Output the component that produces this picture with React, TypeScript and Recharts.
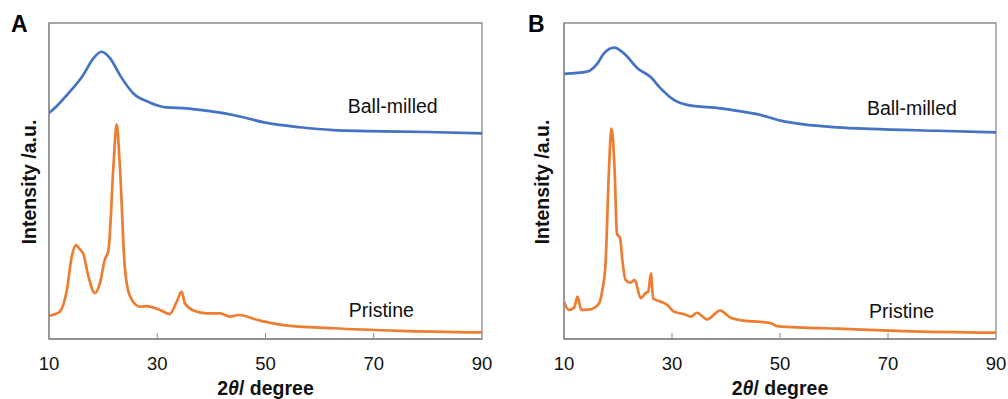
import React from 'react';
import { LineChart, Line, XAxis, YAxis, ReferenceArea, ReferenceDot, Label } from 'recharts';

const FONT = '"Liberation Sans", Arial, sans-serif';
const BLUE = '#4472C4';
const ORANGE = '#ED7D31';
const FRAME = '#8a8a8a';

const xTicks = [10, 30, 50, 70, 90];
const panelLetters = ['A', 'B'];
const seriesNames = ['Ball-milled', 'Pristine'];

// Panel A
const aBallMilledX = [10, 11.5, 13.3, 16.3, 18.2, 19.7, 21.3, 23.1, 25.6, 28.7, 31.7, 35.4, 37.9, 44, 50.2, 56.4, 62.5, 68.7, 80, 90];
const aBallMilledY = [71.5, 73.8, 77.2, 83.5, 88.8, 90.9, 88.8, 83.5, 77.7, 74.8, 73.3, 73.0, 72.5, 70.9, 68.4, 67.0, 66.1, 65.8, 65.5, 65.1];
const aPristineX = [10, 11, 12, 13.3, 14.2, 15, 15.6, 16.3, 17.3, 18.5, 19.4, 20.3, 21, 21.9, 22.5, 23.1, 24, 25, 26.8, 28, 30.5, 32.3, 33.6, 34.5, 35.1, 36.7, 39.1, 41.6, 43.4, 45, 49, 53.3, 62.5, 74.8, 90];
const aPristineY = [7.3, 7.8, 8.6, 15.5, 26, 29.7, 28.6, 27.1, 19.7, 14.5, 17.6, 25, 28.2, 54.5, 67.9, 54.5, 22.9, 13.4, 10.2, 10.4, 9.2, 7.9, 11.8, 15, 11.3, 9.0, 8.1, 8.1, 7.1, 7.6, 5.8, 4.4, 3.4, 2.6, 2.1];

// Panel B
const bBallMilledX = [10, 14.3, 16.2, 17.4, 19.3, 21.1, 23.6, 26.1, 27.9, 30.4, 32.8, 39, 42.1, 46.4, 50.1, 54.4, 60.6, 66.8, 79.1, 90];
const bBallMilledY = [83.9, 84.6, 87.2, 90.4, 92.2, 90.4, 85.7, 82.8, 79.3, 75.6, 74.1, 73.0, 72.2, 70.9, 69.1, 67.9, 67.0, 66.5, 65.9, 65.4];
const bPristineX = [10, 10.9, 11.9, 12.5, 13.2, 14.9, 16.5, 17.1, 17.7, 18.3, 18.8, 19.4, 19.8, 20.4, 20.8, 21.4, 22.3, 23.1, 24.2, 25.1, 25.6, 26.1, 26.5, 27.9, 29.1, 30.4, 32.2, 33.5, 34.6, 36.5, 38.9, 40.9, 43.3, 46.4, 48.3, 49.5, 54.4, 60.6, 72.9, 90];
const bPristineY = [11.8, 9.2, 10, 13.4, 9.2, 9.4, 11.3, 15.5, 24, 52.4, 66.7, 52.4, 33.4, 31.9, 25, 18.7, 17.8, 18.7, 12.9, 14.5, 15, 20.8, 12.9, 11.8, 10.8, 8.6, 7.9, 7.1, 8.3, 6.2, 9.0, 6.7, 5.8, 5.4, 5.0, 4.1, 3.6, 3.3, 2.5, 2.0];

const toRows = (xs: number[], ys: number[]) => xs.map((x, i) => ({ x, y: ys[i] }));

const XTick = (props: any) => {
  const { x, y, payload } = props;
  const axisY = y - 18;
  const edge = payload.value === 10 || payload.value === 90;
  return (
    <g>
      {!edge && <line x1={x} x2={x} y1={axisY} y2={axisY - 6} stroke={FRAME} strokeWidth={1} />}
      <text x={x} y={y} dy="0.71em" textAnchor="middle" fontFamily={FONT} fontSize={18.5} fill="#111">
        {payload.value}
      </text>
    </g>
  );
};

type PanelProps = {
  blue: { x: number; y: number }[];
  orange: { x: number; y: number }[];
  marginLeft: number;
  marginRight: number;
  yAxisWidth: number;
  ballLabel: [number, number];
  pristineLabel: [number, number];
};

const Panel = ({ blue, orange, marginLeft, marginRight, yAxisWidth, ballLabel, pristineLabel }: PanelProps) => (
  <LineChart width={504} height={399} margin={{ top: 23, right: marginRight, left: marginLeft, bottom: 0 }}>
    <XAxis
      type="number"
      dataKey="x"
      domain={[10, 90]}
      ticks={xTicks}
      allowDataOverflow
      height={60}
      tickSize={0}
      tickMargin={18}
      tick={<XTick />}
      axisLine={{ stroke: FRAME, strokeWidth: 1.3 }}
    >
      <Label
        content={(p: any) => {
          const vb = p.viewBox;
          return (
            <text x={vb.x + vb.width / 2} y={vb.y + 56} textAnchor="middle" fontFamily={FONT} fontSize={19.5} fontWeight="bold" fill="#111">
              2<tspan fontStyle="italic">θ</tspan>/ degree
            </text>
          );
        }}
      />
    </XAxis>
    <YAxis
      type="number"
      domain={[0, 100]}
      allowDataOverflow
      width={yAxisWidth}
      tick={false}
      tickLine={false}
      axisLine={{ stroke: FRAME, strokeWidth: 1.3 }}
    >
      <Label
        content={(p: any) => {
          const vb = p.viewBox;
          const cx = vb.x + vb.width / 2;
          const cy = vb.y + vb.height / 2 + 1;
          return (
            <text
              x={cx}
              y={cy}
              transform={`rotate(-90, ${cx}, ${cy})`}
              textAnchor="middle"
              dominantBaseline="central"
              fontFamily={FONT}
              fontSize={19.5}
              fontWeight="bold"
              fill="#111"
            >
              Intensity /a.u.
            </text>
          );
        }}
      />
    </YAxis>
    <ReferenceArea x1={10} x2={90} y1={0} y2={100} fill="none" stroke={FRAME} strokeWidth={1.3} />
    <Line data={blue} dataKey="y" type="monotone" stroke={BLUE} strokeWidth={2.7} dot={false} isAnimationActive={false} />
    <Line data={orange} dataKey="y" type="monotone" stroke={ORANGE} strokeWidth={2.7} dot={false} isAnimationActive={false} />
    <ReferenceDot
      x={ballLabel[0]}
      y={ballLabel[1]}
      r={0}
      fill="none"
      stroke="none"
      label={{ value: seriesNames[0], position: 'right', offset: 0, fontFamily: FONT, fontSize: 19.5, fill: '#111' }}
    />
    <ReferenceDot
      x={pristineLabel[0]}
      y={pristineLabel[1]}
      r={0}
      fill="none"
      stroke="none"
      label={{ value: seriesNames[1], position: 'right', offset: 0, fontFamily: FONT, fontSize: 19.5, fill: '#111' }}
    />
  </LineChart>
);

export default function App() {
  return (
    <div style={{ position: 'absolute', left: 0, top: 0, width: 1008, height: 399, background: '#fff', overflow: 'hidden' }}>
      <div style={{ position: 'absolute', left: 0, top: 0 }}>
        <Panel
          blue={toRows(aBallMilledX, aBallMilledY)}
          orange={toRows(aPristineX, aPristineY)}
          marginLeft={9}
          marginRight={22}
          yAxisWidth={40}
          ballLabel={[65.2, 73.6]}
          pristineLabel={[65.4, 9.2]}
        />
      </div>
      <div style={{ position: 'absolute', left: 504, top: 0 }}>
        <Panel
          blue={toRows(bBallMilledX, bBallMilledY)}
          orange={toRows(bPristineX, bPristineY)}
          marginLeft={15}
          marginRight={12}
          yAxisWidth={45}
          ballLabel={[66.1, 73.1]}
          pristineLabel={[66.5, 8.7]}
        />
      </div>
      <svg width={1008} height={399} style={{ position: 'absolute', left: 0, top: 0, pointerEvents: 'none' }}>
        <text x={11} y={32} fontFamily={FONT} fontSize={23} fontWeight="bold" fill="#000">{panelLetters[0]}</text>
        <text x={528} y={31.5} fontFamily={FONT} fontSize={23} fontWeight="bold" fill="#000">{panelLetters[1]}</text>
      </svg>
    </div>
  );
}
